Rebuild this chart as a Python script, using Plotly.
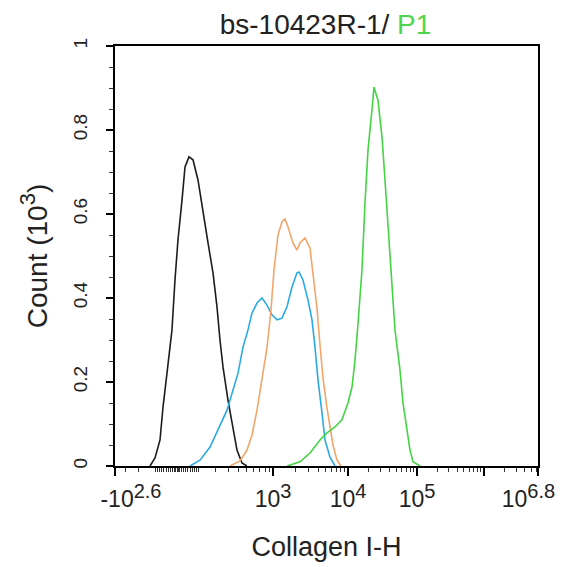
import numpy as np
import plotly.graph_objects as go

# ---------------- data (x in display channels 0..1000, y in counts x10^3) ----------------
black_x = [82.7, 94.6, 106.4, 113.5, 122.9, 134.7, 141.8, 148.9, 158.4, 165.5, 174.9, 184.4,
           196.2, 208.0, 219.9, 231.7, 241.1, 248.2, 255.3, 267.1, 276.6, 288.4, 300.2, 312.0]
black_y = [0.0, 0.019, 0.062, 0.140, 0.221, 0.324, 0.443, 0.538, 0.633, 0.712, 0.736, 0.729,
           0.681, 0.602, 0.531, 0.460, 0.379, 0.300, 0.236, 0.157, 0.102, 0.038, 0.007, 0.0]

blue_x = [177.3, 200.9, 224.6, 243.5, 264.8, 279.0, 290.8, 302.6, 314.4, 323.9, 335.7, 347.5,
          359.3, 371.1, 383.0, 394.8, 406.6, 418.4, 430.2, 435.0, 444.4, 456.3, 465.7, 472.8,
          479.9, 489.4, 496.4, 508.3, 520.1]
blue_y = [0.0, 0.014, 0.045, 0.086, 0.133, 0.181, 0.221, 0.283, 0.324, 0.364, 0.388, 0.400,
          0.383, 0.360, 0.348, 0.352, 0.379, 0.426, 0.460, 0.462, 0.443, 0.395, 0.348, 0.283,
          0.205, 0.126, 0.062, 0.021, 0.0]

orange_x = [271.9, 295.5, 312.0, 323.9, 335.7, 347.5, 359.3, 368.8, 375.9, 385.3, 394.8, 401.9,
            409.0, 420.8, 430.2, 437.3, 449.2, 461.0, 468.1, 477.5, 484.6, 491.7, 501.2, 508.3,
            515.4, 524.8, 534.3]
orange_y = [0.0, 0.012, 0.038, 0.074, 0.133, 0.205, 0.281, 0.371, 0.467, 0.550, 0.581, 0.588,
            0.569, 0.531, 0.514, 0.531, 0.543, 0.519, 0.455, 0.376, 0.288, 0.210, 0.138, 0.090,
            0.050, 0.014, 0.0]

green_x = [406.6, 437.3, 461.0, 484.6, 501.2, 520.1, 536.6, 550.8, 560.3, 567.4, 574.5, 583.9,
           591.0, 598.1, 607.5, 612.3, 621.7, 631.2, 638.3, 645.4, 654.8, 661.9, 673.7, 680.8,
           690.3, 697.4, 704.5, 721.0]
green_y = [0.0, 0.010, 0.031, 0.062, 0.079, 0.093, 0.110, 0.150, 0.188, 0.252, 0.340, 0.467,
           0.626, 0.752, 0.848, 0.902, 0.871, 0.783, 0.681, 0.569, 0.436, 0.324, 0.229, 0.150,
           0.086, 0.038, 0.010, 0.0]

# axis tick values (intensity) and labels
major_vals = [-10 ** 2.6, 1e3, 1e4, 1e5, 1e6, 10 ** 6.8]
major_base = ["-10", "10", "10", "10", "", "10"]
major_exp = ["2.6", "3", "4", "5", "", "6.8"]
y_vals = [0, 0.2, 0.4, 0.6, 0.8, 1]
y_text = ["0", "0.2", "0.4", "0.6", "0.8", "1"]


# ---------------- biexponential display scale ----------------
ZERO_CH = 146.6
K_LIN = 95.3
W_LIN = 182.0
DEC_LOG = [3, 4, 5, 6, 6.8]
DEC_CH = [373.5, 550.8, 714.0, 872.3, 1000.0]


def disp(v):
    if v < 1e3:
        return ZERO_CH + K_LIN * np.arcsinh(v / W_LIN)
    return float(np.interp(np.log10(v), DEC_LOG, DEC_CH))


major_pos = [0.0] + [disp(v) for v in major_vals[1:]]


def sup_label(base, exp):
    if not base:
        return ""
    return f"{base}<sup><span style='font-size:20px'>{exp}</span></sup>"


major_text = [sup_label(b, e) for b, e in zip(major_base, major_exp)]
major_text[0] = "\u00a0" * 5 + major_text[0]
major_text[-1] = major_text[-1] + "\u00a0" * 3

minor_intensities = []
minor_intensities += [s * m for s in (-1, 1) for m in range(10, 100, 10)]
minor_intensities += [0, -5, 5]
minor_intensities += [-m for m in (100, 200, 300)]
minor_intensities += [m * 100 for m in range(1, 10)]
for dec in (1e3, 1e4, 1e5):
    minor_intensities += [m * dec for m in range(2, 10)]
minor_intensities += [m * 1e6 for m in range(2, 7)]
minor_pos = sorted(p for p in (disp(v) for v in minor_intensities) if 0 < p < 1000)

FONT = "Liberation Sans, Arial, sans-serif"
TXT = "#222222"

fig = go.Figure()
for xs, ys, col in [(black_x, black_y, "#1c1c1c"),
                    (blue_x, blue_y, "#2aaae2"),
                    (orange_x, orange_y, "#f2a66a"),
                    (green_x, green_y, "#44d444")]:
    fig.add_trace(go.Scatter(x=xs, y=ys, mode="lines",
                             line=dict(color=col, width=1.6), showlegend=False,
                             hoverinfo="skip"))

fig.update_layout(
    width=559, height=559,
    margin=dict(l=107, r=29, t=38, b=101, autoexpand=False),
    paper_bgcolor="white", plot_bgcolor="white",
    font=dict(family=FONT, color=TXT, size=20),
    title=dict(text="bs-10423R-1/ <span style='color:#4cd64c'>P1</span>",
               x=0.568, xanchor="center", xref="container",
               y=0.988, yanchor="top", yref="container",
               font=dict(family=FONT, size=28, color=TXT)),
    xaxis=dict(range=[0, 1000], showgrid=False, zeroline=False, automargin=False,
               showline=True, linecolor="black", linewidth=1.5, mirror=True,
               ticks="outside", ticklen=8, tickwidth=1.5, tickcolor="black",
               tickvals=major_pos, ticktext=major_text, ticklabelstandoff=4,
               ticklabeloverflow="allow",
               tickfont=dict(family=FONT, size=23, color=TXT),
               minor=dict(tickvals=minor_pos, ticks="outside", ticklen=4,
                          tickwidth=1, tickcolor="#333333"),
               title=dict(text="Collagen I-H", standoff=26,
                          font=dict(family=FONT, size=27, color=TXT))),
    yaxis=dict(range=[0, 1], showgrid=False, zeroline=False, automargin=False,
               showline=True, linecolor="black", linewidth=1.5, mirror=True,
               ticks="outside", ticklen=7, tickwidth=1.5, tickcolor="black",
               tickvals=y_vals, ticktext=y_text, tickangle=-90, ticklabelstandoff=12,
               tickfont=dict(family=FONT, size=19, color=TXT),
               minor=dict(dtick=0.05, ticks="outside", ticklen=4, tickwidth=1,
                          tickcolor="#333333"),
               title=dict(text="Count (10<sup><span style='font-size:22px'>3</span></sup>)",
                          standoff=14,
                          font=dict(family=FONT, size=28, color=TXT))),
)

fig.write_html("out.html")
